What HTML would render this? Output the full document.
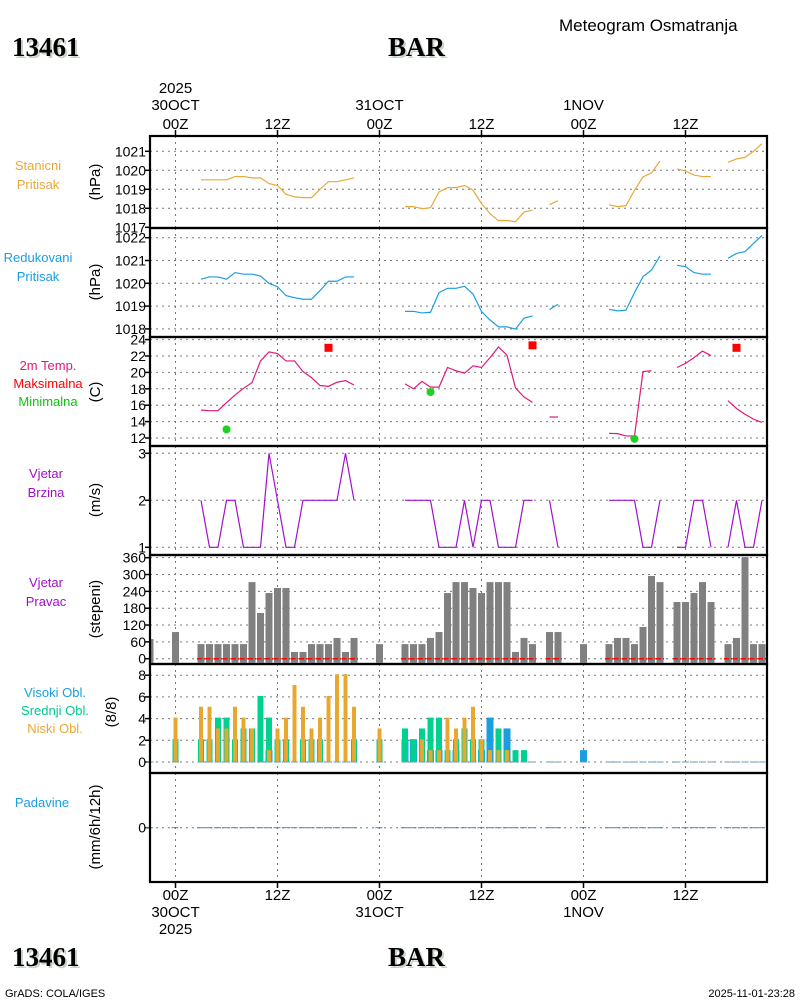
<!DOCTYPE html>
<html><head><meta charset="utf-8"><style>
body{margin:0;background:#fff}
svg{display:block;font-family:"Liberation Sans",sans-serif}
</style></head><body>
<svg id="c" width="800" height="1000" viewBox="0 0 800 1000" xmlns="http://www.w3.org/2000/svg"></svg>
<script>
const hours=[];for(let h=-3;h<=69;h++)hours.push(h);
const N=null;
const stationP=[N,N,N,N,N,N,1019.5,1019.5,1019.5,1019.5,1019.67,1019.67,1019.6,1019.6,1019.3,1019.2,1018.74,1018.6,1018.56,1018.56,1019.0,1019.4,1019.4,1019.5,1019.6,N,N,N,N,N,1018.09,1018.09,1017.98,1018.03,1018.86,1019.09,1019.09,1019.2,1018.95,1018.25,1017.72,1017.35,1017.35,1017.3,1017.8,1017.9,N,1018.19,1018.4,N,N,N,N,N,1018.19,1018.09,1018.14,1018.95,1019.65,1019.86,1020.49,N,1020.07,1019.96,1019.75,1019.67,1019.67,N,1020.42,1020.6,1020.68,1021.0,1021.4];
const reducedP=[N,N,N,N,N,N,1020.18,1020.28,1020.28,1020.18,1020.47,1020.4,1020.4,1020.32,1020.0,1019.85,1019.46,1019.37,1019.3,1019.3,1019.68,1020.09,1020.09,1020.28,1020.28,N,N,N,N,N,1018.77,1018.77,1018.7,1018.73,1019.59,1019.78,1019.78,1019.87,1019.53,1018.76,1018.39,1018.09,1018.09,1017.99,1018.47,1018.57,N,1018.85,1019.08,N,N,N,N,N,1018.86,1018.79,1018.82,1019.59,1020.29,1020.58,1021.2,N,1020.79,1020.73,1020.47,1020.4,1020.4,N,1021.1,1021.31,1021.39,1021.75,1022.1];
const temp=[N,N,N,N,N,N,15.4,15.33,15.33,16.3,17.24,18.06,18.75,21.4,22.5,22.3,21.4,21.4,20.1,19.36,18.4,18.3,18.8,19.0,18.46,N,N,N,N,N,18.6,18.0,18.9,18.2,18.2,20.6,20.2,19.9,20.8,20.6,21.8,23.1,22.1,18.1,17.0,16.35,N,14.56,14.56,N,N,N,N,N,12.57,12.53,12.25,12.25,20.1,20.2,N,N,20.6,21.1,21.8,22.6,22.04,N,16.55,15.6,14.9,14.3,13.9];
const maxHours=[18,42,66];const maxVals=[23.0,23.3,23.0];
const minHours=[6,30,54];const minVals=[13.05,17.6,11.9];
const windSpd=[N,N,N,N,N,N,2,1,1,2,2,1,1,1,3,2,1,1,2,2,2,2,2,3,2,N,N,N,N,N,2,2,2,2,1,1,1,2,1,2,2,1,1,1,2,2,N,2,1,N,N,N,N,N,2,2,2,2,1,1,2,N,1,1,2,2,1,N,1,2,1,1,2];
const windDir=[70,N,N,95,N,N,52,52,52,52,52,52,273,163,234,252,252,24,24,52,52,52,74,24,74,N,N,52,N,N,52,52,52,74,95,234,273,273,252,234,273,273,273,24,74,52,N,95,95,N,N,52,N,N,52,74,74,52,113,295,273,N,202,202,234,273,202,N,52,74,362,52,52];
const lowCl=[0,N,N,4,N,N,5,5,3,3,5,4,3,0,1,3,4,7,5,3,4,6,8,8,5,N,N,3,N,N,0,0,2,1,1,4,3,4,5,2,1,1,1,0,0,0,N,0,0,N,N,0,N,N,0,0,0,0,0,0,0,N,0,0,0,0,0,N,0,0,0,0,0];
const midCl=[0,N,N,2,N,N,2,2,4,4,2,3,3,6,4,2,2,0,2,2,2,0,0,0,2,N,N,2,N,N,3,2,3,4,4,1,2,3,2,2,0,3,1,1,1,0,N,0,0,N,N,0,N,N,0,0,0,0,0,0,0,N,0,0,0,0,0,N,0,0,0,0,0];
const highCl=[0,N,N,0,N,N,0,0,0,0,0,0,0,0,1,0,0,0,0,0,0,0,0,0,0,N,N,0,N,N,2,2,0,1,1,0,1,0,0,1,4,0,3,0,0,0,N,0,0,N,N,1,N,N,0,0,0,0,0,0,0,N,0,0,0,0,0,N,0,0,0,0,0];
const precip=windDir.map(v=>v===null?null:0);
const tP1=[1017,1018,1019,1020,1021];
const tP2=[1018,1019,1020,1021,1022];
const tT=[12,14,16,18,20,22,24];
const tW=[1,2,3];
const tD=[0,60,120,180,240,300,360];
const tC=[0,2,4,6,8];

const S=document.getElementById('c');const NS='http://www.w3.org/2000/svg';
function el(t,a,txt){const e=document.createElementNS(NS,t);for(const k in a)e.setAttribute(k,a[k]);if(txt!==undefined)e.textContent=txt;S.appendChild(e);return e;}
const X=h=>175.5+h*8.5;
const L=150,R=767;
const panels=[[136,228],[228,337],[337,446],[446,555],[555,664],[664,773],[773,882]];
const yP1=v=>170.3-(v-1020)*19, yP2=v=>283.3-(v-1020)*22.8, yT=v=>356+(22-v)*8.2,
 yW=v=>500.3-(v-2)*47, yD=v=>658.7-v*0.2806, yC=v=>762-v*10.85, yR=v=>827.7-v*20;

const gridH=[0,12,24,36,48,60];
panels.forEach(([a,b],i)=>{gridH.forEach(h=>{const g=el('line',{x1:X(h),x2:X(h),y1:a,y2:b,stroke:'#777','stroke-dasharray':'2,4','stroke-width':1});});});
function yaxis(ticks,fy,top,bot,name){ticks.forEach(v=>{const y=fy(v);if(y<top-6||y>bot+6)return;
 if(y>top+1&&y<bot-1){const g=el('line',{x1:L,x2:R,y1:y,y2:y,stroke:'#777','stroke-dasharray':'2,4'});}
 el('line',{x1:L-5,x2:L,y1:y,y2:y,stroke:'#000','stroke-width':1.5});
 const t=el('text',{x:146,y:y+5,'text-anchor':'end','font-size':14},String(v));});}
yaxis(tP1,yP1,136,228,'station-pressure');yaxis(tP2,yP2,228,337,'reduced-pressure');yaxis(tT,yT,337,446,'temperature');
yaxis(tW,yW,446,555,'wind-speed');yaxis(tD,yD,555,664,'wind-direction');yaxis(tC,yC,664,773,'cloud');yaxis([0],yR,773,882,'precip');

function line(arr,fy,col,name){let seg=[];const flush=()=>{if(seg.length>1){const p=el('polyline',{points:seg.join(' '),fill:'none',stroke:col,'stroke-width':1.2});}seg=[];};
 arr.forEach((v,i)=>{if(v===null)flush();else seg.push(X(hours[i])+','+fy(v));});flush();}
line(stationP,yP1,'#e8a838','station-pressure-line');
line(reducedP,yP2,'#1a9ee0','reduced-pressure-line');
line(temp,yT,'#e0187a','temperature-line');
line(windSpd,yW,'#a010c8','wind-speed-line');
maxHours.forEach((h,i)=>{const r=el('rect',{x:X(h)-4,y:yT(maxVals[i])-4,width:8,height:8,fill:'#f00'});});
minHours.forEach((h,i)=>{const c=el('circle',{cx:X(h),cy:yT(minVals[i]),r:4,fill:'#20d020'});});
windDir.forEach((v,i)=>{if(v===null)return;const x=X(hours[i]);const top=Math.max(557,yD(v));const r=el('rect',{x:Math.max(L,x-3.5),y:top,width:7-(x-3.5<L?L-(x-3.5):0),height:yD(0)+4-top,fill:'#808080'});});
windSpd.forEach((v,i)=>{if(v===null)return;const x=X(hours[i]);const d=el('line',{x1:x-4,x2:x+4,y1:yD(0),y2:yD(0),stroke:'#f00','stroke-width':1.5,'stroke-dasharray':'5,2'});});
lowCl.forEach((v,i)=>{if(v===null)return;const x=X(hours[i]);
 if(highCl[i]>0){const hb=el('rect',{x:x-3.5,y:yC(highCl[i])-1,width:7,height:yC(0)-yC(highCl[i])+1,fill:'#1a9ee0'});}
 if(midCl[i]>0){const mb=el('rect',{x:x-3,y:yC(midCl[i])-1,width:6,height:yC(0)-yC(midCl[i])+1,fill:'#00d090'});}
 if(v>0){const lb=el('rect',{x:x-2,y:yC(v)-1,width:4,height:yC(0)-yC(v)+1,fill:'#e8a830'});}
 const z=el('line',{x1:x-3.5,x2:x+3.5,y1:yC(0),y2:yC(0),stroke:'#6a9ab8','stroke-width':1});});
precip.forEach((v,i)=>{if(v===null)return;const x=X(hours[i]);const d=el('line',{x1:x-4,x2:x+3,y1:yR(v),y2:yR(v),stroke:'#3a8ec0','stroke-width':1});});

panels.forEach(([a,b])=>{const r=el('rect',{x:L,y:a,width:R-L,height:b-a,fill:'none',stroke:'#000','stroke-width':2.2});});
gridH.forEach(h=>{el('line',{x1:X(h),x2:X(h),y1:130,y2:136,stroke:'#000','stroke-width':1.5});el('line',{x1:X(h),x2:X(h),y1:882,y2:888,stroke:'#000','stroke-width':1.5});});

function txt(x,y,s,o,name){const t=el('text',Object.assign({x:x,y:y,'font-size':15},o||{}),s);return t;}
const mid={'text-anchor':'middle'};
txt(X(0),93,'2025',mid,'top-year');txt(X(0),110,'30OCT',mid,'top-date');txt(X(0),129,'00Z',mid,'top-time');
txt(X(12),129,'12Z',mid,'top-time');txt(X(24),110,'31OCT',mid,'top-date');txt(X(24),129,'00Z',mid,'top-time');
txt(X(36),129,'12Z',mid,'top-time');txt(X(48),110,'1NOV',mid,'top-date');txt(X(48),129,'00Z',mid,'top-time');txt(X(60),129,'12Z',mid,'top-time');
txt(X(0),900,'00Z',mid,'bottom-time');txt(X(0),917,'30OCT',mid,'bottom-date');txt(X(0),934,'2025',mid,'bottom-year');
txt(X(12),900,'12Z',mid,'bottom-time');txt(X(24),900,'00Z',mid,'bottom-time');txt(X(24),917,'31OCT',mid,'bottom-date');
txt(X(36),900,'12Z',mid,'bottom-time');txt(X(48),900,'00Z',mid,'bottom-time');txt(X(48),917,'1NOV',mid,'bottom-date');txt(X(60),900,'12Z',mid,'bottom-time');
const big={'font-family':'"Liberation Serif",serif','font-weight':'bold','font-size':27};
[[56,'13461','station-id'],[966,'13461','station-id']].forEach(([y,s,n])=>{txt(14,y+2,s,Object.assign({fill:'#c8d4c8'},big),n+'-shadow');txt(12,y,s,big,n);});
[[56],[966]].forEach(([y])=>{txt(390,y+2,'BAR',Object.assign({fill:'#c8d4c8'},big),'station-name-shadow');txt(388,y,'BAR',big,'station-name');});
txt(559,31,'Meteogram Osmatranja',{'font-size':17},'chart-title');
txt(5,997,'GrADS: COLA/IGES',{'font-size':11},'footer-credit');
txt(795,997,'2025-11-01-23:28',{'font-size':11,'text-anchor':'end'},'footer-timestamp');
const lab=(x,y,s,c,n)=>txt(x,y,s,{'text-anchor':'middle',fill:c,'font-size':13},n);
lab(38,170,'Stanicni','#e8a838','station-pressure-label');lab(38,189,'Pritisak','#e8a838','station-pressure-label');
lab(38,262,'Redukovani','#1a9ee0','reduced-pressure-label');lab(38,281,'Pritisak','#1a9ee0','reduced-pressure-label');
lab(48,370,'2m Temp.','#e0187a','temp-label');lab(48,388,'Maksimalna','#f00','max-label');lab(48,406,'Minimalna','#10c010','min-label');
lab(46,478,'Vjetar','#a010c8','wind-speed-label');lab(46,497,'Brzina','#a010c8','wind-speed-label');
lab(46,587,'Vjetar','#a010c8','wind-dir-label');lab(46,606,'Pravac','#a010c8','wind-dir-label');
lab(55,697,'Visoki Obl.','#1a9ee0','high-cloud-label');lab(55,715,'Srednji Obl.','#00c890','mid-cloud-label');lab(55,733,'Niski Obl.','#e8a830','low-cloud-label');
lab(42,807,'Padavine','#1a9ee0','precip-label');
const rot=(x,y,s,n)=>{txt(x,y,s,{'text-anchor':'middle','font-size':15,transform:'rotate(-90 '+x+' '+y+')'},n);};
rot(100,182,'(hPa)','station-pressure-unit');rot(100,282,'(hPa)','reduced-pressure-unit');rot(100,392,'(C)','temp-unit');
rot(100,500,'(m/s)','wind-speed-unit');rot(100,609,'(stepeni)','wind-dir-unit');rot(116,712,'(8/8)','cloud-unit');rot(100,827,'(mm/6h/12h)','precip-unit');
</script>
</body></html>
